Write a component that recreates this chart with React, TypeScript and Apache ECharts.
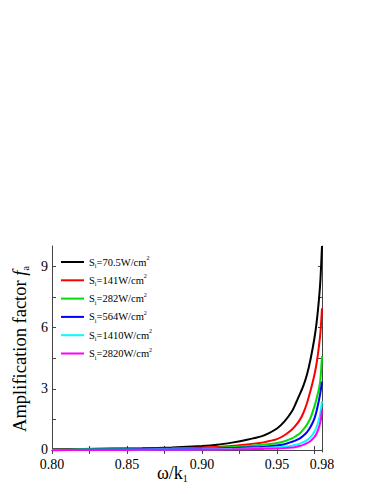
import React, { useEffect, useRef } from "react";
import * as echarts from "echarts";

const xValues = [0.80, 0.82, 0.84, 0.86, 0.88, 0.90, 0.91, 0.92, 0.93, 0.94, 0.945, 0.95, 0.955, 0.96, 0.9625, 0.965, 0.9675, 0.97, 0.9725, 0.975, 0.9765, 0.978, 0.979, 0.98];

const s70 = [0.04, 0.05, 0.07, 0.08, 0.12, 0.19, 0.25, 0.36, 0.5, 0.68, 0.84, 1.05, 1.4, 1.9, 2.28, 2.7, 3.13, 3.7, 4.5, 5.5, 6.3, 7.4, 8.4, 10];
const s141 = [0.03, 0.04, 0.05, 0.06, 0.08, 0.12, 0.15, 0.2, 0.27, 0.36, 0.44, 0.53, 0.72, 1.0, 1.2, 1.45, 1.8, 2.3, 2.95, 3.7, 4.3, 5.1, 5.8, 6.95];
const s282 = [0.02, 0.03, 0.035, 0.04, 0.06, 0.09, 0.11, 0.14, 0.19, 0.25, 0.29, 0.34, 0.43, 0.57, 0.68, 0.8, 1.0, 1.25, 1.6, 2.15, 2.55, 3.0, 3.5, 4.6];
const s564 = [0.01, 0.015, 0.02, 0.03, 0.04, 0.06, 0.07, 0.09, 0.12, 0.15, 0.18, 0.22, 0.28, 0.4, 0.47, 0.56, 0.7, 0.88, 1.15, 1.55, 1.95, 2.45, 2.85, 3.35];
const s1410 = [0, 0.005, 0.01, 0.015, 0.02, 0.03, 0.04, 0.05, 0.07, 0.09, 0.11, 0.13, 0.16, 0.21, 0.26, 0.3, 0.38, 0.48, 0.64, 0.9, 1.15, 1.5, 1.85, 2.4];
const s2820 = [-0.01, -0.005, 0, 0.005, 0.01, 0.02, 0.025, 0.03, 0.04, 0.05, 0.06, 0.07, 0.09, 0.12, 0.15, 0.19, 0.25, 0.33, 0.45, 0.64, 0.82, 1.12, 1.4, 1.98];

const seriesNames = ["70.5", "141", "282", "564", "1410", "2820"];
const seriesData = [s70, s141, s282, s564, s1410, s2820];
const seriesColors = ["#000000", "#ff0000", "#00dd00", "#0000ff", "#00ffff", "#ff00ff"];

const xTickValues = [0.8, 0.825, 0.85, 0.875, 0.9, 0.925, 0.95, 0.975];
const xLabelValues = [0.8, 0.85, 0.9, 0.95, 0.98];
const yTickValues = [0, 1.5, 3, 4.5, 6, 7.5, 9];
const yLabelValues = [0, 3, 6, 9];

const FONT = "Liberation Serif";
const AXIS_COLOR = "#444";

export default function App() {
  const ref = useRef<HTMLDivElement>(null);
  useEffect(() => {
    if (!ref.current) return;
    const chart = echarts.init(ref.current, undefined, { renderer: "svg" });
    const baseAxisLine = { show: true, lineStyle: { color: AXIS_COLOR, width: 1 } };
    const option: any = {
      animation: false,
      backgroundColor: "#ffffff",
      grid: { left: 52, right: 60, top: 246, bottom: 42, containLabel: false },
      legend: {
        orient: "vertical",
        left: 61,
        top: 255,
        padding: 0,
        icon: "rect",
        itemWidth: 23,
        itemHeight: 2,
        itemGap: 4.3,
        data: seriesNames,
        formatter: (name: string) => `{a|S}{b|i}{a|=${name}W/cm}{c|2}`,
        textStyle: {
          fontFamily: FONT,
          color: "#000",
          rich: {
            a: { fontFamily: FONT, fontSize: 10.5, lineHeight: 14, color: "#000" },
            b: { fontFamily: FONT, fontSize: 6, lineHeight: 7, verticalAlign: "bottom", color: "#000" },
            c: { fontFamily: FONT, fontSize: 6, lineHeight: 7, verticalAlign: "top", color: "#000" },
          },
        },
      },
      xAxis: [
        {
          type: "value",
          min: 0.8,
          max: 0.98,
          axisLine: baseAxisLine,
          splitLine: { show: false },
          axisTick: { show: true, inside: true, length: 4, customValues: xTickValues, lineStyle: { color: AXIS_COLOR } },
          axisLabel: {
            customValues: xLabelValues,
            formatter: (v: number) => v.toFixed(2),
            fontFamily: FONT,
            fontSize: 14,
            color: "#000",
            margin: 5,
          },
        },
        {
          type: "value",
          position: "top",
          min: 0.8,
          max: 0.98,
          axisLine: baseAxisLine,
          splitLine: { show: false },
          axisTick: { show: true, inside: true, length: 4, customValues: xTickValues, lineStyle: { color: AXIS_COLOR } },
          axisLabel: { show: false },
        },
      ],
      yAxis: [
        {
          type: "value",
          min: -0.1,
          max: 10,
          axisLine: baseAxisLine,
          splitLine: { show: false },
          axisTick: { show: true, inside: true, length: 4, customValues: yTickValues, lineStyle: { color: AXIS_COLOR } },
          axisLabel: {
            customValues: yLabelValues,
            fontFamily: FONT,
            fontSize: 14,
            color: "#000",
            margin: 4,
          },
          name: "{n|Amplification factor }{i|f}{s|a}",
          nameLocation: "middle",
          nameGap: 16,
          nameTextStyle: {
            rich: {
              n: { fontFamily: FONT, fontSize: 18.5, lineHeight: 20, color: "#000" },
              i: { fontFamily: FONT, fontSize: 18.5, fontStyle: "italic", lineHeight: 20, color: "#000" },
              s: { fontFamily: FONT, fontSize: 10, lineHeight: 10, verticalAlign: "bottom", color: "#000" },
            },
          },
        },
        {
          type: "value",
          position: "right",
          min: -0.1,
          max: 10,
          axisLine: baseAxisLine,
          splitLine: { show: false },
          axisTick: { show: true, inside: true, length: 4, customValues: yTickValues, lineStyle: { color: AXIS_COLOR } },
          axisLabel: { show: false },
        },
      ],
      graphic: [
        {
          type: "text",
          left: 157,
          top: 464,
          style: {
            text: "{n|ω/k}{s|1}",
            rich: {
              n: { fontFamily: FONT, fontSize: 18, lineHeight: 20, fill: "#000" },
              s: { fontFamily: FONT, fontSize: 10, lineHeight: 10, verticalAlign: "bottom", fill: "#000" },
            },
          },
        },
      ],
      series: seriesNames.map((name, i) => ({
        name,
        type: "line",
        xAxisIndex: 0,
        yAxisIndex: 0,
        showSymbol: false,
        symbol: "none",
        smooth: 0.25,
        clip: true,
        lineStyle: { color: seriesColors[i], width: 2 },
        itemStyle: { color: seriesColors[i] },
        data: xValues.map((x, k) => [x, seriesData[i][k]]),
      })),
    };
    chart.setOption(option);
    return () => chart.dispose();
  }, []);
  return <div ref={ref} style={{ position: "fixed", left: 0, top: 0, width: 382, height: 494 }} />;
}
